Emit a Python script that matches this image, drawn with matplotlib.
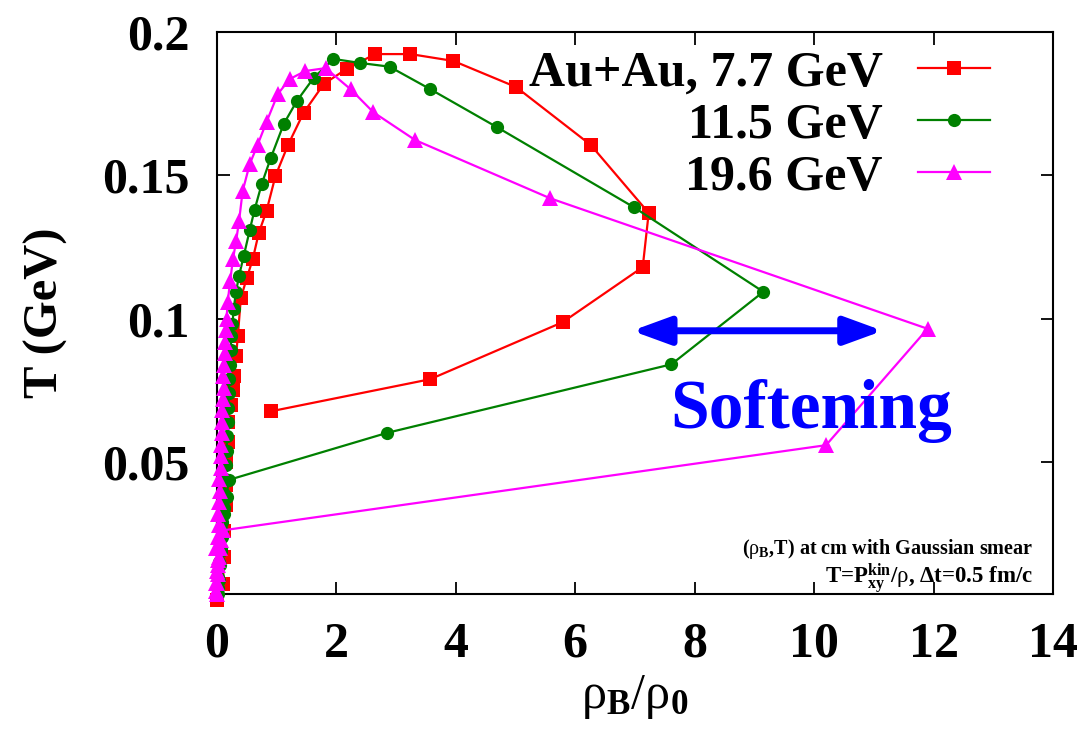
import matplotlib
matplotlib.use("Agg")
import matplotlib.pyplot as plt

plt.rcParams['font.family'] = ['Liberation Serif', 'DejaVu Serif']
plt.rcParams['mathtext.fontset'] = 'custom'
plt.rcParams['mathtext.rm'] = 'Liberation Serif'
plt.rcParams['mathtext.it'] = 'Liberation Serif:italic'
plt.rcParams['mathtext.bf'] = 'Liberation Serif:bold'

# (rho_B/rho_0, T) trajectories at the collision centre
rho_77 = [0.00, 0.10, 0.12, 0.12, 0.15, 0.15, 0.15, 0.18, 0.18, 0.23, 0.27, 0.28, 0.32,
          0.35, 0.40, 0.50, 0.60, 0.70, 0.83, 0.98, 1.19, 1.45, 1.79, 2.17, 2.65, 3.24,
          3.96, 5.01, 6.26, 7.23, 7.13, 5.79, 3.57, 0.90]
T_77 = [0.002, 0.0075, 0.017, 0.026, 0.035, 0.042, 0.050, 0.057, 0.064, 0.070, 0.075, 0.080,
        0.087, 0.094, 0.1072, 0.1142, 0.1208, 0.1299, 0.1376, 0.1498, 0.1606, 0.1718, 0.1819,
        0.1871, 0.1923, 0.1923, 0.1899, 0.1808, 0.1606, 0.1369, 0.1180, 0.0988, 0.0789, 0.0677]

rho_115 = [0.02, 0.03, 0.05, 0.07, 0.08, 0.09, 0.11, 0.12, 0.13, 0.15, 0.16, 0.17, 0.18,
           0.19, 0.20, 0.21, 0.22, 0.23, 0.24, 0.26,
           0.28, 0.32, 0.37, 0.45, 0.55, 0.63, 0.75, 0.90, 1.12, 1.34, 1.62, 1.95, 2.40,
           2.89, 3.56, 4.69, 6.98, 9.15, 7.61, 2.85, 0.20, 0.16, 0.12, 0.09, 0.06, 0.04,
           0.02, 0.01]
T_115 = [0.004, 0.009, 0.014, 0.019, 0.024, 0.029, 0.034, 0.039, 0.044, 0.049, 0.054, 0.059,
         0.064, 0.069, 0.074, 0.079, 0.084, 0.089, 0.094, 0.098,
         0.1035, 0.1094, 0.115, 0.122, 0.131, 0.138, 0.147, 0.156, 0.168, 0.176, 0.184,
         0.1906, 0.1892, 0.1879, 0.1802, 0.1668, 0.1389, 0.1094, 0.0841, 0.0602, 0.0438,
         0.038, 0.032, 0.026, 0.020, 0.015, 0.010, 0.006]

rho_196 = [0.00, -0.02, 0.00, 0.01, -0.01, 0.02, 0.03, 0.02, 0.04, 0.05, 0.04, 0.06, 0.07,
           0.06, 0.08, 0.09, 0.08, 0.10, 0.11, 0.10, 0.12, 0.13, 0.14, 0.15, 0.16,
           0.18, 0.22, 0.27, 0.32, 0.37, 0.43, 0.55, 0.68, 0.83, 1.02, 1.22, 1.48, 1.82,
           2.24, 2.62, 3.32, 5.58, 11.9, 10.2, 0.10, 0.07, 0.05, 0.03, 0.02, 0.01, 0.00,
           -0.01]
T_196 = [0.004, 0.008, 0.012, 0.016, 0.020, 0.024, 0.028, 0.032, 0.036, 0.040, 0.044, 0.048,
         0.052, 0.056, 0.060, 0.064, 0.068, 0.072, 0.076, 0.080, 0.084, 0.088, 0.092, 0.096,
         0.100, 0.1058, 0.113, 0.121, 0.127, 0.134, 0.1445, 0.154, 0.1606, 0.1686, 0.1784,
         0.1836, 0.1864, 0.1874, 0.180, 0.172, 0.1623, 0.142, 0.0965, 0.0559, 0.0262,
         0.023, 0.020, 0.017, 0.014, 0.011, 0.008, 0.005]

labels = ['Au+Au, 7.7 GeV', '11.5 GeV', '19.6 GeV']

# softening arrow span and level
arrow_x = [6.95, 11.15]
arrow_y = 0.0958

fig = plt.figure(figsize=(10.88, 7.29), dpi=100)
ax = fig.add_axes([0.1994, 0.1852, 0.7684, 0.7709])

common = dict(lw=1.6, mew=0, clip_on=False, zorder=3)
ax.plot(rho_77, T_77, color='#ff0000', marker='s', ms=10.5, label=labels[0], **common)
ax.plot(rho_115, T_115, color='#008000', marker='o', ms=9.5, label=labels[1], **common)
ax.plot(rho_196, T_196, color='#ff00ff', marker='^', ms=11, label=labels[2], **common)

ax.set_xlim(0, 14)
ax.set_ylim(0.004, 0.2)
ax.set_xticks(range(0, 15, 2))
ax.set_yticks([0.05, 0.1, 0.15, 0.2])
ax.set_yticklabels(['0.05', '0.1', '0.15', '0.2'])
ax.tick_params(direction='in', length=9, width=1.3, top=True, right=True,
               labelsize=36, pad=20)
for lab in ax.get_xticklabels() + ax.get_yticklabels():
    lab.set_fontweight('bold')
for sp in ax.spines.values():
    sp.set_linewidth(1.5)

ax.set_ylabel('T (GeV)', fontsize=35, fontweight='bold', labelpad=24)
ax.set_xlabel(r'$\mathrm{\rho_{\mathbf{B}}/\rho_{\mathbf{0}}}$', fontsize=36, labelpad=4)

leg = ax.legend(loc='upper right', bbox_to_anchor=(0.925, 0.967), frameon=False,
                markerfirst=False, numpoints=1, handlelength=1.45, handletextpad=0.7,
                labelspacing=0.12, borderaxespad=0, borderpad=0,
                prop=dict(size=36, weight='bold'))
for t in leg.get_texts():
    t.set_ha('right')

ax.annotate('', xy=(arrow_x[1], arrow_y), xytext=(arrow_x[0], arrow_y),
            arrowprops=dict(arrowstyle='<|-|>,head_length=1.15,head_width=0.42',
                            lw=5, color='#0000ff', shrinkA=0, shrinkB=0,
                            mutation_scale=20), zorder=5)
ax.text(9.95, 0.062, 'Softening', color='#0000ff', fontsize=50, fontweight='bold',
        ha='center', va='baseline', zorder=5)

ax.text(13.67, 0.0180, r'($\mathrm{\rho_{\mathbf{B}}}$,T) at cm with Gaussian smear',
        fontsize=14.5, fontweight='bold', ha='right', va='baseline')
ax.text(13.67, 0.0077, r'T=P$^{\mathbf{kin}}_{\mathbf{xy}}$/$\mathrm{\rho}$, Δt=0.5 fm/c',
        fontsize=16.5, fontweight='bold', ha='right', va='baseline')

fig.savefig('out.png', dpi=100)
